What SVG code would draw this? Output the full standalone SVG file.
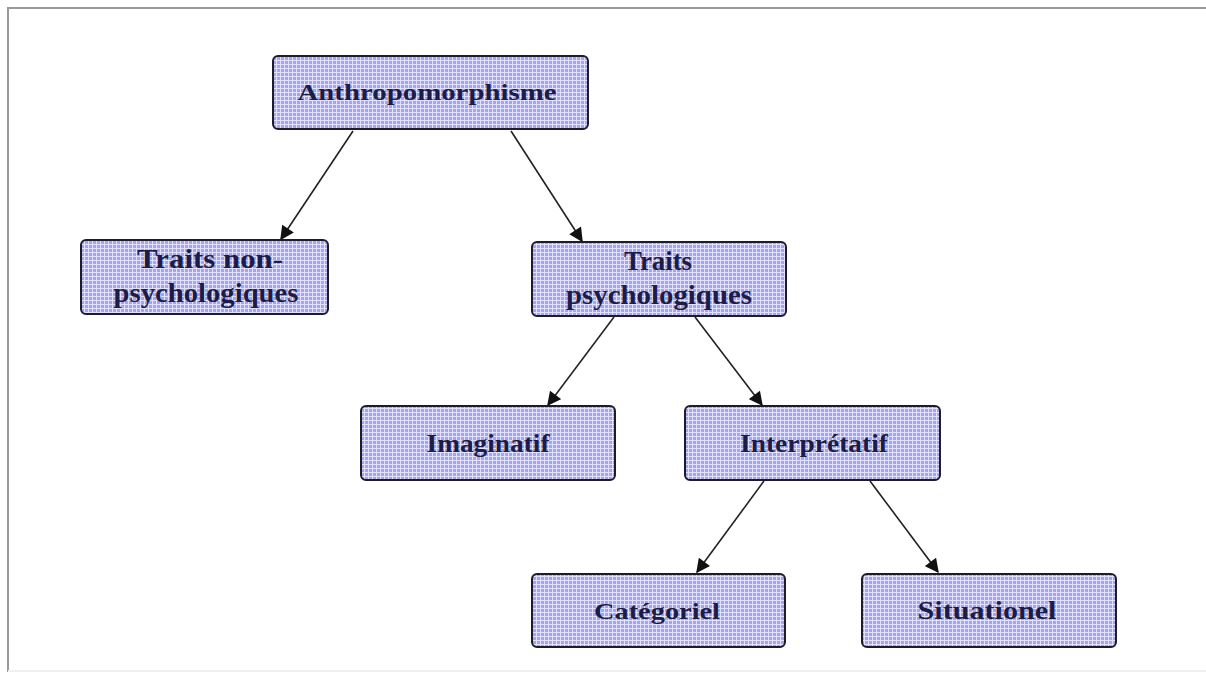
<svg xmlns="http://www.w3.org/2000/svg" width="1206" height="675" viewBox="0 0 1206 675">
  <style>
    .box { fill: url(#grid); stroke: #1c1c2c; stroke-width: 2; }
    .lbl { font-family: "Liberation Serif", "DejaVu Serif", serif; font-weight: bold; fill: #1c1c48; text-anchor: middle; }
    .conn { stroke: #222; stroke-width: 1.6; fill: none; marker-end: url(#arrow); }
    .frame { stroke: #9a9a9a; stroke-width: 2; fill: none; }
  </style>
  <defs>
    <pattern id="grid" width="4" height="4" patternUnits="userSpaceOnUse">
      <rect width="4" height="4" fill="#a4a4f2"/>
      <path d="M0 0.5 H4 M0.5 0 V4" stroke="#e2e2ff" stroke-width="1"/>
    </pattern>
    <marker id="arrow" viewBox="0 0 10 10" refX="9" refY="5" markerWidth="15" markerHeight="14" markerUnits="userSpaceOnUse" orient="auto">
      <path d="M0 0 L10 5 L0 10 Z" fill="#111"/>
    </marker>
  </defs>
  <rect width="1206" height="675" fill="#ffffff"/>
  <path class="frame" d="M8 672 V8 H1206"/>
  <path d="M8 671 H1206" stroke="#f0f0f0" stroke-width="2"/>

  <g id="connectors">
    <line class="conn" x1="353" y1="131" x2="281" y2="239"/>
    <line class="conn" x1="511" y1="131" x2="582" y2="241"/>
    <line class="conn" x1="614" y1="317" x2="548" y2="405"/>
    <line class="conn" x1="695" y1="317" x2="762" y2="405"/>
    <line class="conn" x1="764" y1="481" x2="697" y2="572"/>
    <line class="conn" x1="870" y1="481" x2="938" y2="572"/>
  </g>

  <g id="n-anthropomorphisme">
    <rect class="box" x="273" y="56" width="315" height="73" rx="5"/>
    <text class="lbl" x="427" y="100" font-size="24" textLength="259" lengthAdjust="spacingAndGlyphs">Anthropomorphisme</text>
  </g>
  <g id="n-traits-non-psy">
    <rect class="box" x="81" y="240" width="247" height="74" rx="5"/>
    <text class="lbl" x="210" y="268" font-size="27" textLength="146" lengthAdjust="spacingAndGlyphs">Traits non-</text>
    <text class="lbl" x="206" y="302" font-size="27" textLength="185" lengthAdjust="spacingAndGlyphs">psychologiques</text>
  </g>
  <g id="n-traits-psy">
    <rect class="box" x="532" y="242" width="254" height="74" rx="5"/>
    <text class="lbl" x="658" y="270" font-size="27" textLength="68" lengthAdjust="spacingAndGlyphs">Traits</text>
    <text class="lbl" x="659" y="304" font-size="27" textLength="186" lengthAdjust="spacingAndGlyphs">psychologiques</text>
  </g>
  <g id="n-imaginatif">
    <rect class="box" x="361" y="406" width="254" height="74" rx="5"/>
    <text class="lbl" x="488" y="452" font-size="26" textLength="123" lengthAdjust="spacingAndGlyphs">Imaginatif</text>
  </g>
  <g id="n-interpretatif">
    <rect class="box" x="685" y="406" width="255" height="74" rx="5"/>
    <text class="lbl" x="814" y="452" font-size="26" textLength="148" lengthAdjust="spacingAndGlyphs">Interprétatif</text>
  </g>
  <g id="n-categoriel">
    <rect class="box" x="532" y="574" width="253" height="73" rx="5"/>
    <text class="lbl" x="657" y="619" font-size="24" textLength="126" lengthAdjust="spacingAndGlyphs">Catégoriel</text>
  </g>
  <g id="n-situationel">
    <rect class="box" x="862" y="574" width="254" height="73" rx="5"/>
    <text class="lbl" x="987" y="619" font-size="26" textLength="139" lengthAdjust="spacingAndGlyphs">Situationel</text>
  </g>
</svg>
